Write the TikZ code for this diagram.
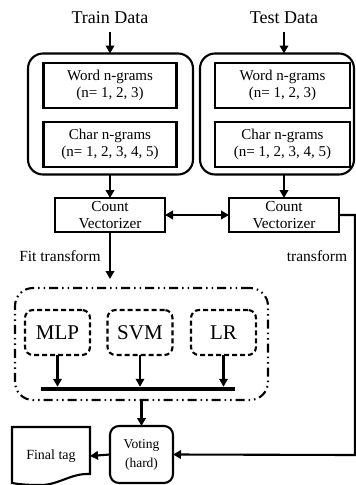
\documentclass[tikz,border=0pt]{standalone}
\usepackage{fontspec}
\setmainfont{Liberation Serif}
\usetikzlibrary{arrows.meta}
\begin{document}
\begin{tikzpicture}[x=1pt,y=-1pt,
  every node/.style={inner sep=0pt, outer sep=0pt},
  ln/.style={line width=2.1pt},
  arr/.style={line width=2.1pt,-{Triangle[length=8pt,width=8.5pt]}},
  darr/.style={line width=2.1pt,{Triangle[length=8pt,width=8.5pt]}-{Triangle[length=8pt,width=8.5pt]}},
  bigbox/.style={draw,ln,rounded corners=15pt,minimum height=121pt},
  gbox/.style={draw,ln,minimum height=45pt,align=center,font=\fontsize{15}{17.7}\selectfont},
  cvbox/.style={draw,ln,minimum width=110pt,minimum height=34pt,align=center,font=\fontsize{15.3}{17}\selectfont},
  title/.style={font=\fontsize{18}{20}\selectfont},
  lbl/.style={font=\fontsize{15.5}{18}\selectfont},
  model/.style={draw,line width=2.1pt,dash pattern=on 5pt off 3pt,rounded corners=8pt,minimum width=65pt,minimum height=45pt,font=\fontsize{21}{24}\selectfont}
]
\useasboundingbox (0,0) rectangle (356,485);

\node[title] (train) at (110,18) {Train Data};
\node[title] (test) at (284,18) {Test Data};

\node[bigbox,minimum width=165pt] (lbox) at (110.5,114) {};
\node[bigbox,minimum width=154pt] (rbox) at (277,114) {};

\node[gbox,minimum width=133pt] (lw) at (110,85.5) {Word n-grams\\(n= 1, 2, 3)};
\node[gbox,minimum width=133pt] (lc) at (110,144.5) {Char n-grams\\(n= 1, 2, 3, 4, 5)};
\node[gbox,minimum width=135pt] (rw) at (282.5,85.5) {Word n-grams\\(n= 1, 2, 3)};
\node[gbox,minimum width=135pt] (rc) at (282.5,144.5) {Char n-grams\\(n= 1, 2, 3, 4, 5)};

\node[cvbox] (cvL) at (110,215) {Count\\Vectorizer};
\node[cvbox] (cvR) at (284,215) {Count\\Vectorizer};

\draw[arr] (train.south |- 0,32) -- (train.south |- lbox.north);
\draw[arr] (test.south |- 0,32) -- (test.south |- rbox.north);
\draw[arr] (cvL.north |- lbox.south) -- (cvL.north);
\draw[arr] (cvR.north |- rbox.south) -- (cvR.north);
\draw[darr] (cvL.east) -- (cvR.west);

\node[lbl] (fit) at (60,256) {Fit transform};
\node[lbl] (tr) at (317,256) {transform};

\node[draw,line width=2.1pt,rounded corners=18pt,minimum width=253pt,minimum height=112pt,
  dash pattern=on 9pt off 4pt on 1.5pt off 4pt on 1.5pt off 4pt] (ens) at (141.5,344) {};

\draw[arr,shorten >=9pt] (cvL.south) -- (cvL.south |- ens.north);

\node[model] (mlp) at (57.5,332.5) {MLP};
\node[model] (svm) at (140,332.5) {SVM};
\node[model] (lr) at (223.5,332.5) {LR};

\node[fill=black,minimum width=194pt,minimum height=4.5pt] (bus) at (138,389) {};
\draw[arr] (mlp.south) -- (mlp.south |- bus.north);
\draw[arr] (svm.south) -- (svm.south |- bus.north);
\draw[arr] (lr.south) -- (lr.south |- bus.north);

\node[draw,ln,rounded corners=9pt,minimum width=63pt,minimum height=57pt,align=center,
  font=\fontsize{13.5}{19}\selectfont] (vote) at (141.5,454.5) {Voting\\(hard)};
\draw[arr] (vote.north |- ens.south) -- (vote.north);

\node[minimum width=78pt,minimum height=58pt,font=\fontsize{14}{16}\selectfont] (doc) at (51,456) {Final tag};
\draw[ln,line join=miter] (12,427) -- (90,427) -- (90,474)
  .. controls (70,473) and (58,486) .. (38,485)
  .. controls (26,485) and (18,484) .. (12,483) -- cycle;
\draw[arr] (vote.west) -- (doc.east);

\coordinate (corner) at (355,455);
\draw[arr] (cvR.east) -| (corner) -- (vote.east);
\end{tikzpicture}
\end{document}
